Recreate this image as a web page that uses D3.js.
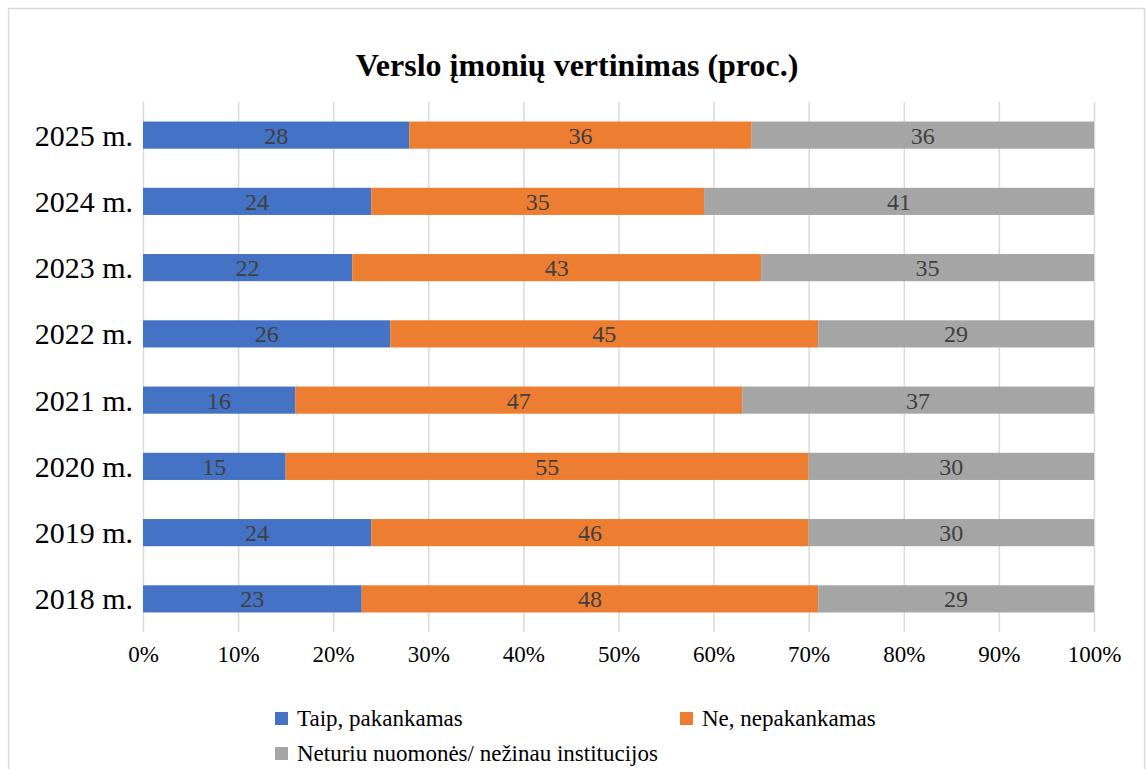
<!DOCTYPE html>
<html><head><meta charset="utf-8">
<script src="https://cdn.jsdelivr.net/npm/d3@7"></script>
<style>html,body{margin:0;padding:0;background:#fff;}svg{display:block;}</style>
</head><body>
<svg id="c" width="1147" height="769"></svg>
<script>
const categories = ["2025 m.","2024 m.","2023 m.","2022 m.","2021 m.","2020 m.","2019 m.","2018 m."];
const seriesNames = ["Taip, pakankamas","Ne, nepakankamas","Neturiu nuomonės/ nežinau institucijos"];
const taip = [28,24,22,26,16,15,24,23];
const ne = [36,35,43,45,47,55,46,48];
const neturiu = [36,41,35,29,37,30,30,29];
const tickValues = [0,10,20,30,40,50,60,70,80,90,100];
const colors = ["#4472C4","#ED7D31","#A5A5A5"];
const title = "Verslo įmonių vertinimas (proc.)";

const svg = d3.select("#c");
const font = "Liberation Serif";
svg.append("rect").attr("x",8.5).attr("y",8.5).attr("width",1136).attr("height",780)
  .attr("fill","#fff").attr("stroke","#D9D9D9").attr("stroke-width",1.5);

const x = d3.scaleLinear().domain([0,100]).range([143,1094]);
const y = d3.scaleBand().domain(categories).range([102,632]).paddingInner(0.59).paddingOuter(0.295);

svg.append("text").attr("x",577).attr("y",76).attr("text-anchor","middle")
  .style("font-family",font).attr("font-weight","bold").attr("font-size",32).attr("fill","#000").text(title);

// gridlines
svg.append("g").selectAll("line").data(tickValues).join("line")
  .attr("x1",d=>x(d)+0.5).attr("x2",d=>x(d)+0.5).attr("y1",102).attr("y2",632)
  .attr("stroke","#D9D9D9").attr("stroke-width",1.5);

const data = categories.map((c,i)=>({cat:c, vals:[taip[i],ne[i],neturiu[i]]}));
const stack = [];
data.forEach(d=>{let s=0; d.vals.forEach((v,k)=>{stack.push({cat:d.cat,k,v,x0:s,x1:s+v}); s+=v;});});

svg.append("g").selectAll("rect").data(stack).join("rect")
  .attr("x",d=>x(d.x0)).attr("width",d=>x(d.x1)-x(d.x0))
  .attr("y",d=>y(d.cat)).attr("height",y.bandwidth()).attr("fill",d=>colors[d.k]);

svg.append("g").selectAll("text").data(stack).join("text")
  .attr("x",d=>(x(d.x0)+x(d.x1))/2).attr("y",d=>y(d.cat)+y.bandwidth()/2+8.5)
  .attr("text-anchor","middle").style("font-family",font).attr("font-size",24).attr("fill","#404040")
  .text(d=>d.v);

// y axis labels
const ya = svg.append("g").attr("transform","translate(143,0)").call(d3.axisLeft(y).tickSize(0).tickPadding(10));
ya.select(".domain").remove();
ya.selectAll("text").style("font-family",font).attr("font-size",30).attr("fill","#000").attr("dy",10.5);

// x axis
const xa = svg.append("g").attr("transform","translate(0,632)")
  .call(d3.axisBottom(x).tickValues(tickValues).tickFormat(d=>d+"%").tickSize(0).tickPadding(0));
xa.select(".domain").remove();
xa.selectAll("text").style("font-family",font).attr("font-size",23).attr("fill","#000").attr("dy",0).attr("y",30);

// legend
const leg = [{x:275,y:726},{x:680,y:726},{x:275,y:761}];
const lg = svg.append("g").selectAll("g").data(seriesNames).join("g")
  .attr("transform",(d,i)=>`translate(${leg[i].x},${leg[i].y})`);
lg.append("rect").attr("x",0).attr("y",-14).attr("width",13).attr("height",13).attr("fill",(d,i)=>colors[i]);
lg.append("text").attr("x",22).attr("y",0).style("font-family",font).attr("font-size",23).attr("fill","#000").text(d=>d);
</script>
</body></html>
